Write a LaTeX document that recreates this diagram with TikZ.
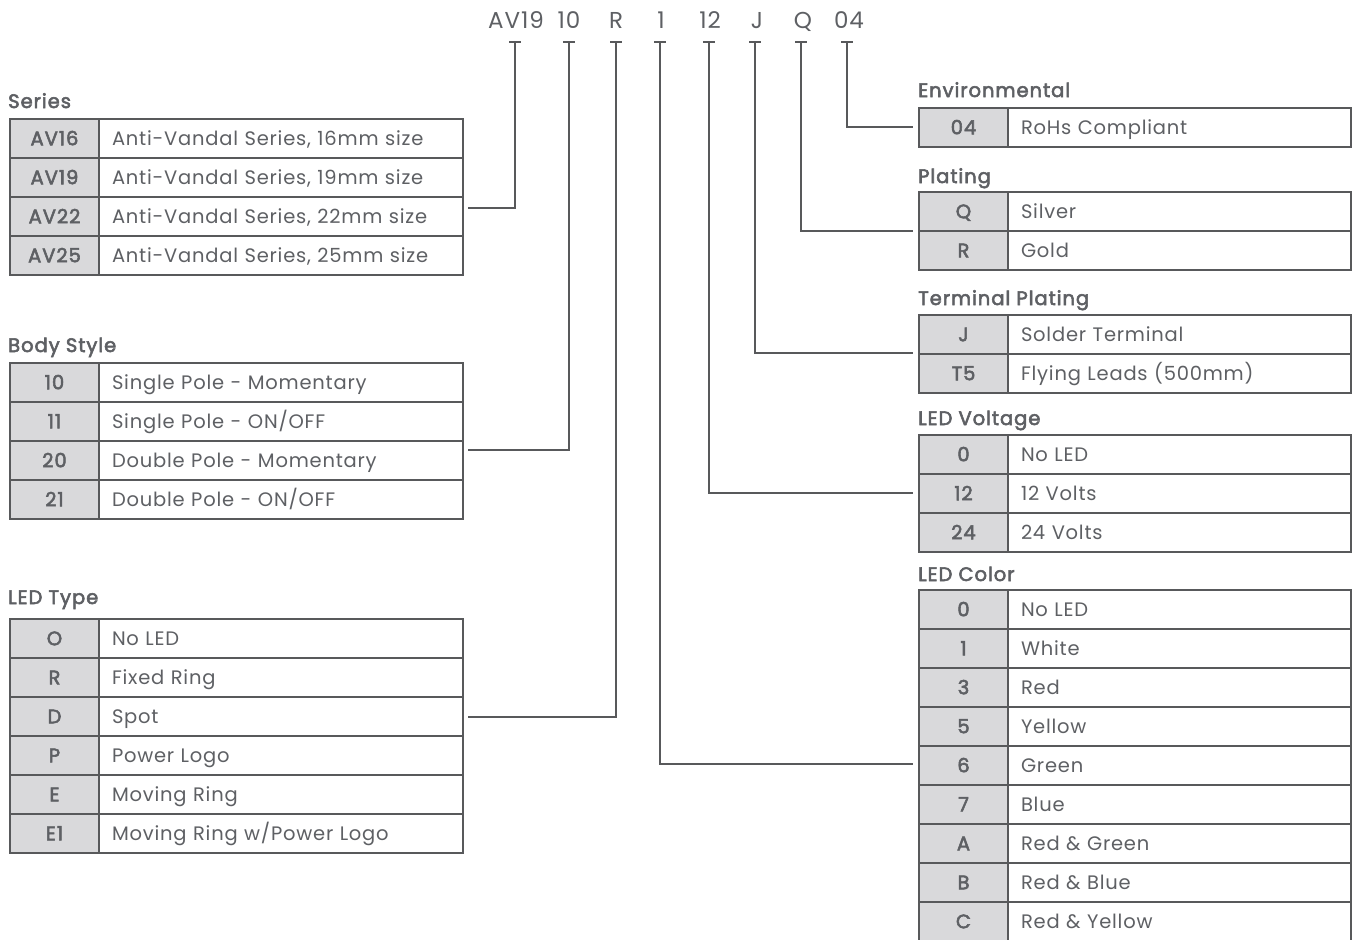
\documentclass[tikz,border=0pt]{standalone}
\usepackage{fontspec}
\setmainfont{Poppins}
\newfontfamily\descfont{Poppins}[LetterSpace=4]
\newfontfamily\medfont{Poppins}[LetterSpace=5]
\newcommand\heavier[1]{\special{pdf:literal direct 2 Tr 0.55 w}#1\special{pdf:literal direct 0 Tr}}
\definecolor{ink}{HTML}{5E6064}
\definecolor{lineC}{HTML}{58595B}
\definecolor{codeF}{HTML}{D9D9DB}
\tikzset{
  cell/.style={draw=lineC, line width=1.3pt, minimum height=39pt, inner sep=0pt, outer sep=0pt, anchor=north west, text height=13.5pt, text depth=0pt, text=ink},
  codecell/.style={cell, fill=codeF, minimum width=89pt, font=\fontsize{19.5}{22}\medfont},
  desccell/.style={cell, fill=white, align=left, inner xsep=13pt, font=\fontsize{19.5}{22}\descfont},
  hdr/.style={anchor=base west, inner sep=0pt, text=ink, font=\fontsize{19.5}{22}\medfont},
  toplbl/.style={anchor=base, inner sep=0pt, text=ink, font=\fontsize{23}{26}\descfont},
  conn/.style={draw=lineC, line width=2pt},
}
\newcommand\spectable[5]{%
  \foreach [count=\i] \c/\d in {#5} {
    \node[codecell] (#1-\i) at (#2, {#3+39*(\i-1)}) {\heavier{\c}};
    \node[desccell, text width=#4] (#1-\i d) at ({#2+89}, {#3+39*(\i-1)}) {\d};
  }%
}
\begin{document}
\begin{tikzpicture}[x=1pt,y=-1pt]
\useasboundingbox[fill=white] (0,0) rectangle (1353,940);

% headers
\node[hdr] (hSer) at (8,108) {\heavier{Series}};
\node[hdr] (hBody) at (8,352) {\heavier{Body Style}};
\node[hdr] (hType) at (8,604) {\heavier{LED Type}};
\node[hdr] (hEnv) at (918,97) {\heavier{Environmental}};
\node[hdr] (hPlat) at (918,183) {\heavier{Plating}};
\node[hdr] (hTerm) at (918,305) {\heavier{Terminal Plating}};
\node[hdr] (hVolt) at (918,425) {\heavier{LED Voltage}};
\node[hdr] (hCol) at (918,581) {\heavier{LED Color}};

% left tables
\spectable{ser}{10}{119}{338pt}{AV16/{Anti-Vandal Series, 16mm size},AV19/{Anti-Vandal Series, 19mm size},AV22/{Anti-Vandal Series, 22mm size},AV25/{Anti-Vandal Series, 25mm size}}
\spectable{body}{10}{363}{338pt}{10/{Single Pole - Momentary},11/{Single Pole - ON/OFF},20/{Double Pole - Momentary},21/{Double Pole - ON/OFF}}
\spectable{type}{10}{619}{338pt}{O/{No LED},R/{Fixed Ring},D/{Spot},P/{Power Logo},E/{Moving Ring},E1/{Moving Ring w/Power Logo}}

% right tables
\spectable{env}{919}{108}{317pt}{04/{RoHs Compliant}}
\spectable{plat}{919}{192}{317pt}{Q/{Silver},R/{Gold}}
\spectable{term}{919}{315}{317pt}{J/{Solder Terminal},T5/{Flying Leads (500mm)}}
\spectable{volt}{919}{435}{317pt}{0/{No LED},12/{12 Volts},24/{24 Volts}}
\spectable{col}{919}{590}{317pt}{0/{No LED},1/{White},3/{Red},5/{Yellow},6/{Green},7/{Blue},A/{Red \& Green},B/{Red \& Blue},C/{Red \& Yellow}}

% top code labels
\node[toplbl] (lAV) at (516,28) {AV19};
\node[toplbl] (lBody) at (569,28) {10};
\node[toplbl] (lType) at (616,28) {R};
\node[toplbl] (lCol) at (661,28) {1};
\node[toplbl] (lVolt) at (710,28) {12};
\node[toplbl] (lTerm) at (757,28) {J};
\node[toplbl] (lPlat) at (803,28) {Q};
\node[toplbl] (lEnv) at (849,28) {04};

% tee tops
\coordinate (tAV) at (515,42);
\coordinate (tBody) at (569,42);
\coordinate (tType) at (616,42);
\coordinate (tCol) at (660,42);
\coordinate (tVolt) at (709,42);
\coordinate (tTerm) at (755,42);
\coordinate (tPlat) at (801,42);
\coordinate (tEnv) at (847,42);

% connector ends
\coordinate (eSer) at (468,208);
\coordinate (eBody) at (468,450);
\coordinate (eType) at (468,717);
\coordinate (eCol) at (913,764);
\coordinate (eVolt) at (913,493);
\coordinate (eTerm) at (913,353);
\coordinate (ePlat) at (913,231);
\coordinate (eEnv) at (913,127);

\foreach \n in {AV,Body,Type,Col,Volt,Term,Plat,Env}{
  \draw[conn] ([xshift=-6pt]t\n) -- ([xshift=6pt]t\n);
}
\draw[conn] (tAV) |- (eSer);
\draw[conn] (tBody) |- (eBody);
\draw[conn] (tType) |- (eType);
\draw[conn] (tCol) |- (eCol);
\draw[conn] (tVolt) |- (eVolt);
\draw[conn] (tTerm) |- (eTerm);
\draw[conn] (tPlat) |- (ePlat);
\draw[conn] (tEnv) |- (eEnv);
\end{tikzpicture}
\end{document}
